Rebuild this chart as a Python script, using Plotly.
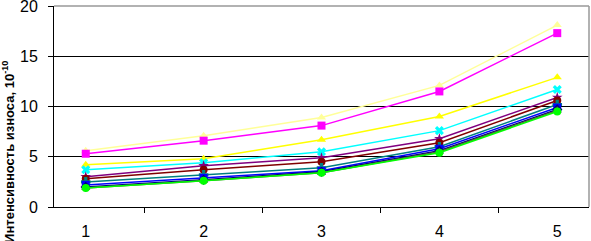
import plotly.graph_objects as go

categories = ["1", "2", "3", "4", "5"]

s_lightyellow = [5.6, 7.1, 8.9, 12.1, 18.1]
s_magenta = [5.3, 6.6, 8.1, 11.5, 17.3]
s_yellow = [4.2, 4.8, 6.7, 9.0, 12.9]
s_cyan = [3.7, 4.4, 5.5, 7.6, 11.7]
s_purple = [3.0, 4.1, 4.9, 6.8, 10.9]
s_darkred = [2.8, 3.7, 4.5, 6.4, 10.6]
s_teal = [2.5, 3.2, 3.9, 6.0, 10.2]
s_blue = [2.2, 2.9, 3.6, 5.8, 9.9]
s_navy = [2.0, 2.7, 3.5, 5.6, 9.7]
s_olive = [1.9, 2.6, 3.4, 5.5, 9.6]
s_green = [1.9, 2.6, 3.4, 5.4, 9.5]

series = [
    (s_lightyellow, "#FFFF99", "triangle-up"),
    (s_magenta, "#FF00FF", "square"),
    (s_yellow, "#FFFF00", "triangle-up"),
    (s_cyan, "#00FFFF", "x"),
    (s_purple, "#800080", "star"),
    (s_darkred, "#800000", "circle"),
    (s_teal, "#008080", "cross"),
    (s_blue, "#0000FF", "square"),
    (s_navy, "#000080", "diamond"),
    (s_olive, "#556B2F", "triangle-up"),
    (s_green, "#00FF00", "circle"),
]

fig = go.Figure()
for vals, col, sym in series:
    fig.add_trace(go.Scatter(
        x=categories, y=vals, mode="lines+markers",
        line=dict(color=col, width=1.5),
        marker=dict(color=col, symbol=sym, size=8),
        showlegend=False, cliponaxis=False,
    ))

fig.update_layout(
    width=591, height=241,
    margin=dict(l=54, r=2, t=6, b=34),
    paper_bgcolor="white", plot_bgcolor="white",
    font=dict(family="Liberation Sans, Arial, sans-serif", color="black"),
    xaxis=dict(
        type="category", tickson="boundaries", ticks="outside", ticklen=5,
        tickcolor="black", showline=True, linecolor="black", linewidth=1,
        showgrid=False, tickfont=dict(size=16), zeroline=False,
        automargin=False, ticklabeloverflow="allow", ticklabelstandoff=10,
    ),
    yaxis=dict(
        range=[0, 20], tickvals=[0, 5, 10, 15, 20], ticks="outside", ticklen=5,
        tickcolor="black", showline=True, linecolor="black", linewidth=1,
        showgrid=True, gridcolor="black", gridwidth=1, zeroline=False,
        tickfont=dict(size=16), automargin=False, ticklabeloverflow="allow",
        ticklabelstandoff=7,
    ),
    shapes=[
        dict(type="line", xref="paper", yref="paper", x0=0, x1=1, y0=1, y1=1,
             line=dict(color="#999999", width=1.5)),
        dict(type="line", xref="paper", yref="paper", x0=1, x1=1, y0=0, y1=1,
             line=dict(color="#999999", width=1.5)),
    ],
    annotations=[
        dict(text="<b>Интенсивность износа, 10<sup>-10</sup></b>",
             xref="paper", yref="paper", x=-0.086, y=0.274,
             xanchor="center", yanchor="middle", textangle=-90,
             showarrow=False, font=dict(size=13)),
    ],
)

fig.write_html(
    "out.html",
    config={"displayModeBar": False},
    post_script="document.body.style.margin='0';document.body.style.overflow='hidden';",
)
